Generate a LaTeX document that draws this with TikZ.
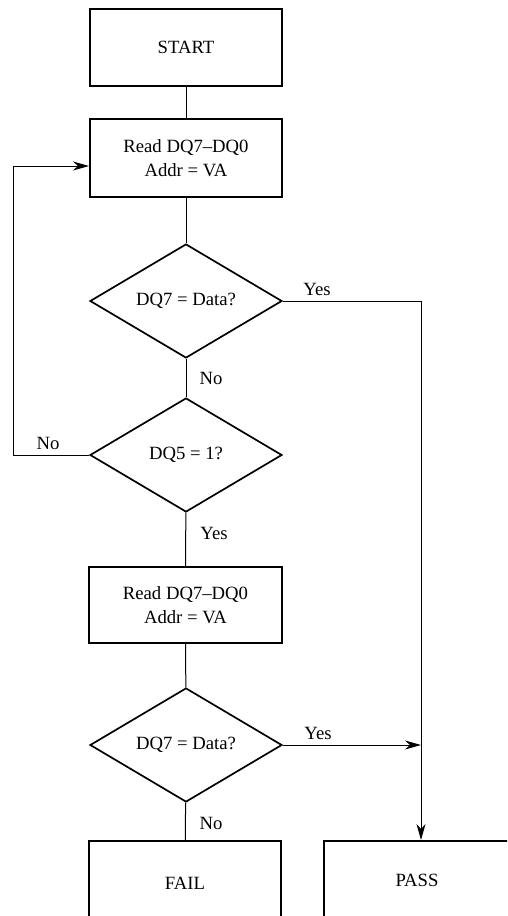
\documentclass[tikz,border=0pt]{standalone}
\usepackage{fontspec}
\setmainfont{Liberation Serif}
\usetikzlibrary{shapes.geometric,arrows.meta}
\begin{document}
\begin{tikzpicture}[x=1pt,y=1pt,
  font=\fontsize{18.7}{24}\selectfont,
  box/.style={draw,line width=2pt,rectangle,inner sep=0pt,minimum width=192pt},
  dec/.style={draw,line width=1.7pt,diamond,aspect=1.684,inner sep=0pt,minimum width=192pt,minimum height=114pt},
  conn/.style={line width=1pt},
  arr/.style={conn,-{Stealth[length=16pt,width=9pt,inset=5pt]}},
  lbl/.style={inner sep=0pt}]
\useasboundingbox (0,0) rectangle (507,-916);
\clip (0,0) rectangle (507,-916);
\node[box,minimum height=77pt] (start) at (186,-47.5) {START};
\node[box,minimum height=78pt,align=center] (read1) at (186,-158) {Read DQ7–DQ0\\Addr = VA};
\node[dec] (d1) at (186,-301) {DQ7 = Data?};
\node[dec] (d2) at (186,-455) {DQ5 = 1?};
\node[box,minimum height=76pt,minimum width=193pt,align=center] (read2) at (185.5,-605) {Read DQ7–DQ0\\Addr = VA};
\node[dec] (d3) at (186,-745) {DQ7 = Data?};
\node[box,minimum height=84pt] (fail) at (185,-883) {FAIL};
\node[box,minimum height=84pt,minimum width=194pt] (pass) at (421,-883) {};
\node[lbl] (passt) at (417,-880) {PASS};
\coordinate (lp) at (13,-166);
\draw[conn] (start) -- (read1);
\draw[conn] (read1) -- (d1);
\draw[conn] (d1) -- (d2);
\draw[arr] (d1.east) -| (pass.north);
\draw[arr] (d2.west) -| (lp) -- (read1.west |- lp);
\draw[conn] (d2) -- (read2);
\draw[conn] (read2) -- (d3);
\draw[arr] (d3.east) -- (d3.east -| pass.north);
\draw[conn] (d3) -- (fail);
\node[lbl] (y1) at (317,-289) {Yes};
\node[lbl] (n1) at (211,-378) {No};
\node[lbl] (n2) at (48,-443) {No};
\node[lbl] (y2) at (214,-533) {Yes};
\node[lbl] (y3) at (318,-733) {Yes};
\node[lbl] (n3) at (211,-823) {No};
\end{tikzpicture}
\end{document}
